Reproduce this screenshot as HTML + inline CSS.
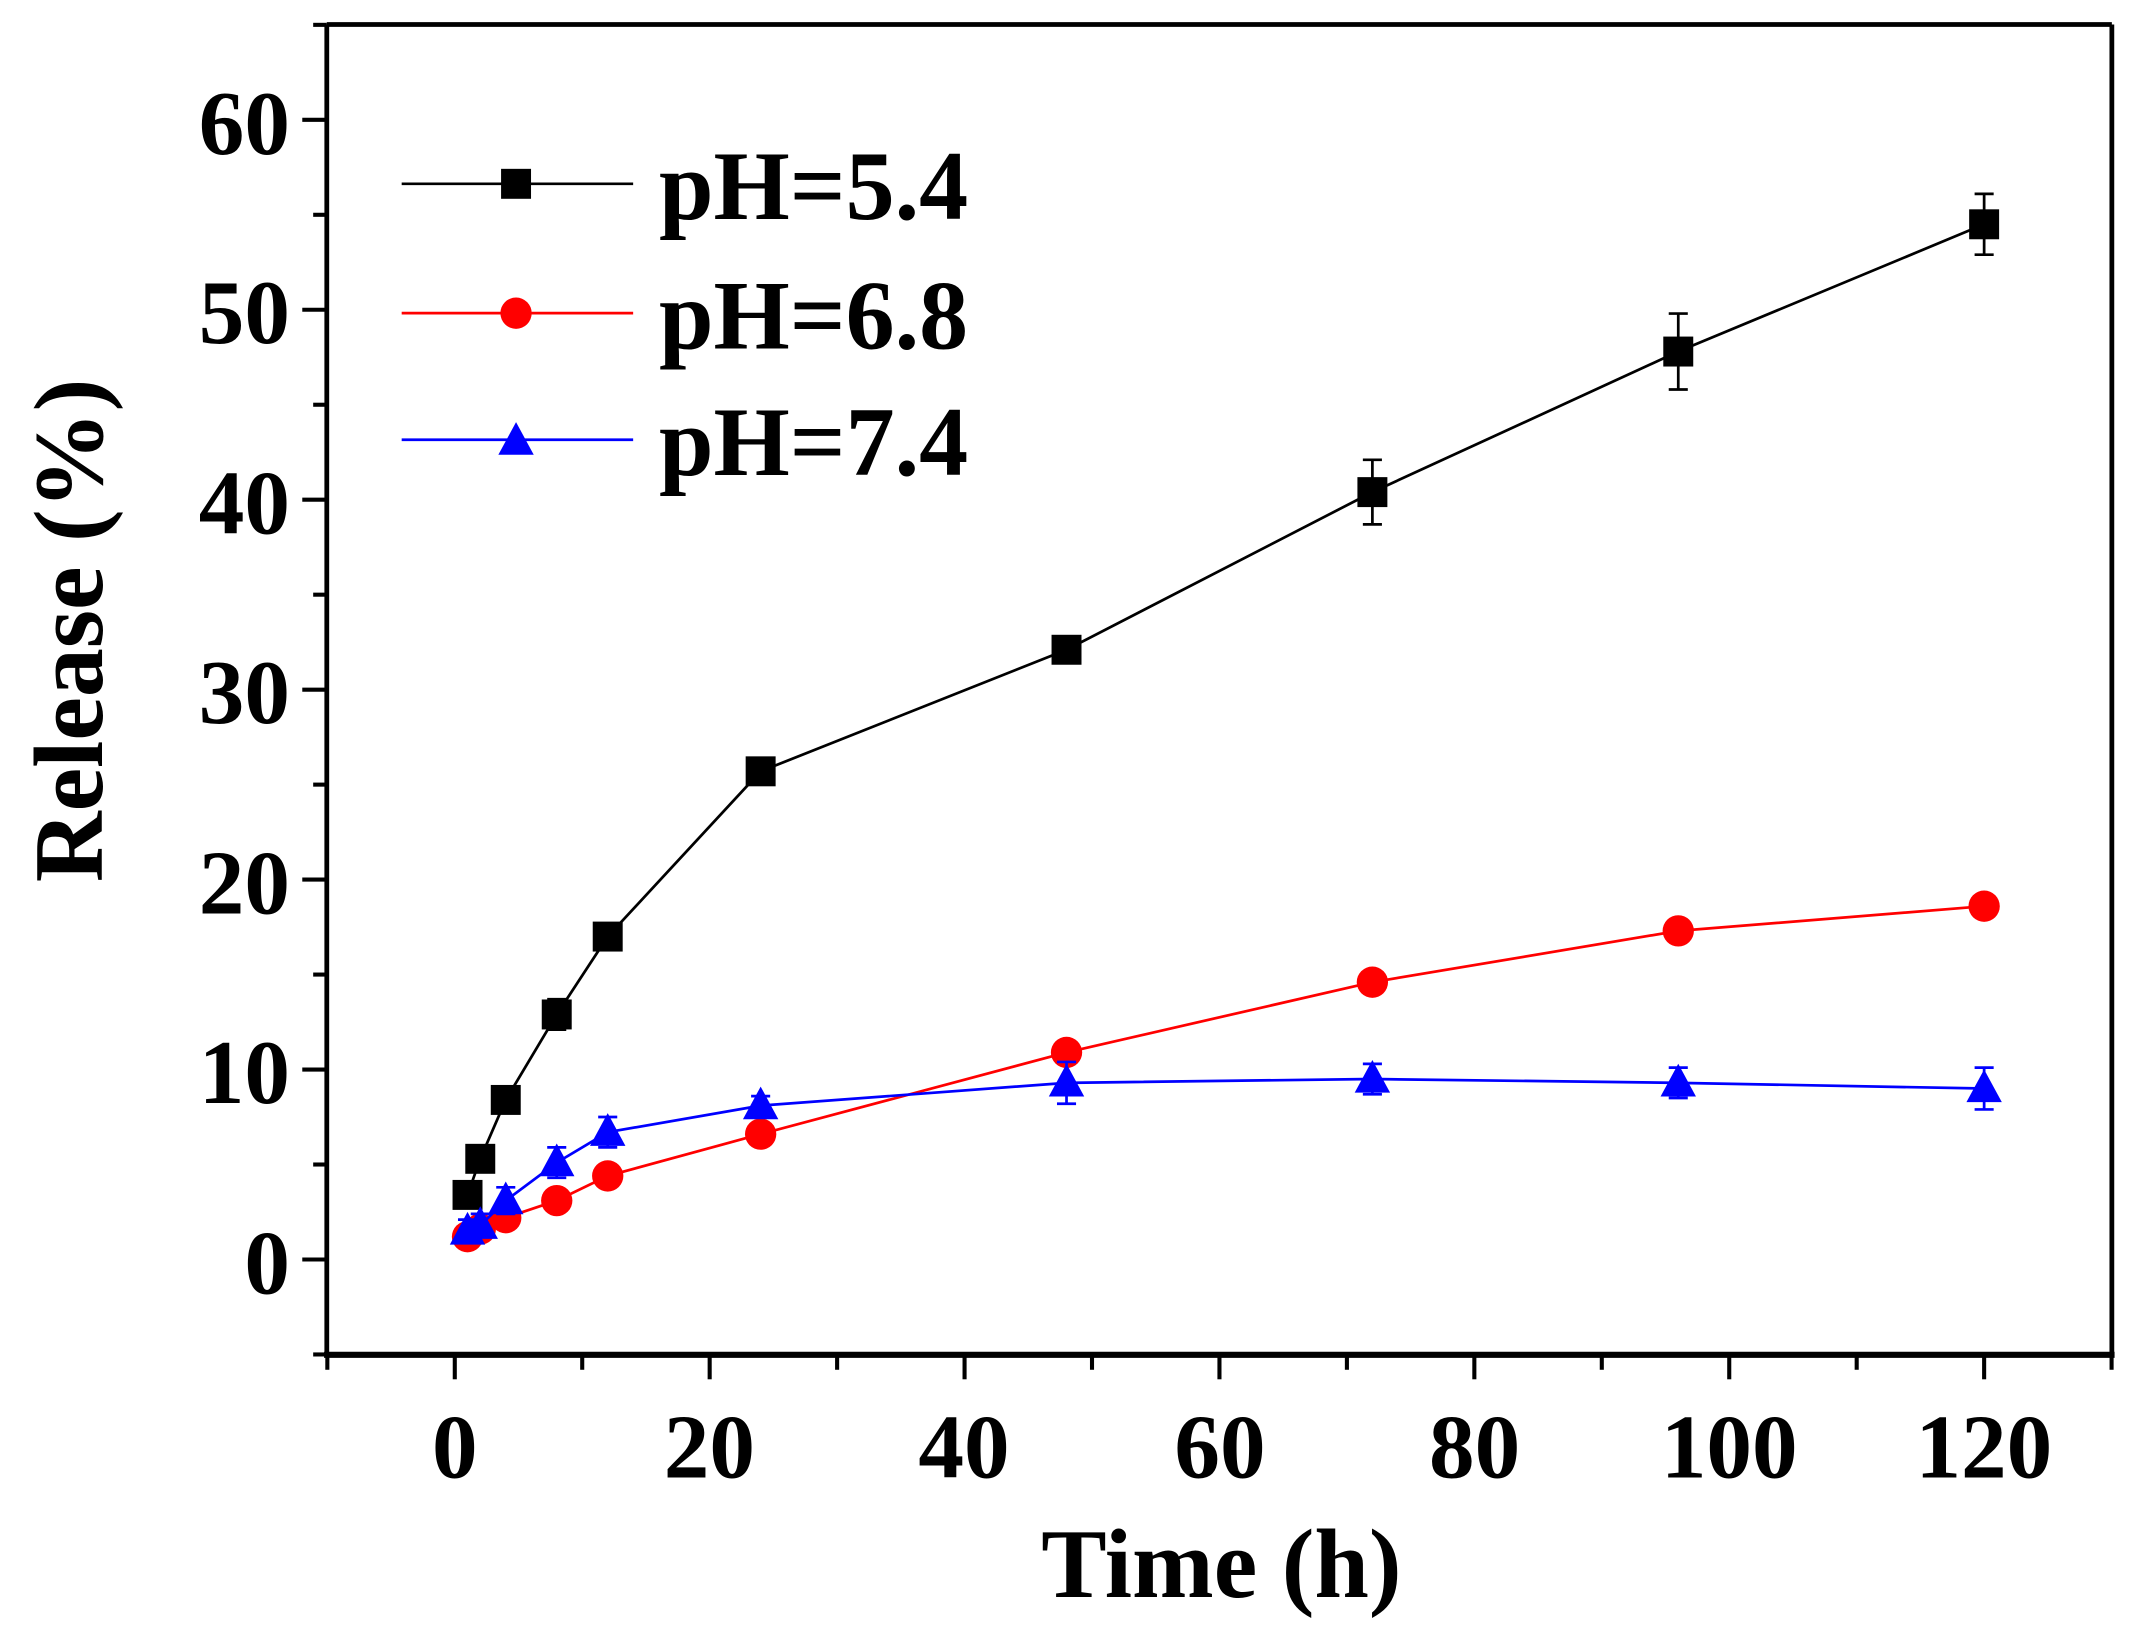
<!DOCTYPE html>
<html><head><style>html,body{margin:0;padding:0;background:#fff}svg{display:block}</style></head><body>
<svg width="2135" height="1644" viewBox="0 0 1568 1207.4" preserveAspectRatio="none" xmlns="http://www.w3.org/2000/svg" font-family="Liberation Serif, serif" font-weight="bold">
<g stroke="#000" stroke-width="3.5" fill="none">
<line x1="240" y1="18" x2="1551" y2="18"/>
<line x1="240" y1="18" x2="240" y2="995"/>
<line x1="1551" y1="18" x2="1551" y2="995"/>
<line x1="238" y1="995" x2="1553" y2="995" stroke-width="4.5"/>
</g>
<g id="ticks" stroke="#000" stroke-width="3"></g>
<g font-size="67" text-anchor="end" fill="#000">
<text x="213" y="113">60</text><text x="213" y="252">50</text><text x="213" y="392">40</text><text x="213" y="531">30</text><text x="213" y="671">20</text><text x="213" y="810">10</text><text x="213" y="950">0</text>
</g>
<g font-size="67" text-anchor="middle" fill="#000">
<text x="334" y="1085">0</text><text x="521" y="1085">20</text><text x="708" y="1085">40</text><text x="896" y="1085">60</text><text x="1083" y="1085">80</text><text x="1270" y="1085">100</text><text x="1457" y="1085">120</text>
</g>
<text x="897" y="1173" font-size="72" text-anchor="middle">Time (h)</text>
<text transform="translate(75,463) rotate(-90)" font-size="72" text-anchor="middle">Release (%)</text>
<g id="data"></g>
<g stroke-width="2">
<line x1="295" y1="135" x2="465" y2="135" stroke="#000"/>
<rect x="368" y="124" width="22" height="22" fill="#000"/>
<line x1="295" y1="230" x2="465" y2="230" stroke="#f00"/>
<circle cx="379" cy="230" r="11.5" fill="#f00"/>
<line x1="295" y1="323" x2="465" y2="323" stroke="#00f"/>
<polygon points="379,310 366,334 392,334" fill="#00f"/>
</g>
<g font-size="72" fill="#000">
<text x="484" y="161">pH=5.4</text><text x="484" y="256">pH=6.8</text><text x="484" y="349">pH=7.4</text>
</g>
<script>
var X=function(t){return 334+t*9.36},Y=function(v){return 925-v*13.95};
var ns="http://www.w3.org/2000/svg";
function el(p,n,a){var e=document.createElementNS(ns,n);for(var k in a)e.setAttribute(k,a[k]);p.appendChild(e);return e}
var tk=document.getElementById('ticks');
for(var v=-5;v<=65;v+=5){var y=Y(v);el(tk,'line',{x1:v%10==0?222:230,y1:y,x2:240,y2:y})}
for(var t=-10;t<=130;t+=10){var x=X(t);el(tk,'line',{x1:x,y1:995,x2:x,y2:t%20==0?1013:1006})}
var d=document.getElementById('data');
var T=[1,2,4,8,12,24,48,72,96,120];
var S=[
{c:'#000',m:'s',v:[3.4,5.3,8.4,12.9,17,25.7,32.1,40.4,47.8,54.5],e:[.4,.4,.5,.8,.6,.7,.6,1.7,2,1.6]},
{c:'#f00',m:'c',v:[1.2,1.6,2.2,3.1,4.4,6.6,10.9,14.6,17.3,18.6],e:[.3,.3,.3,.3,.3,.3,.3,.3,.3,.5]},
{c:'#00f',m:'t',v:[1.5,1.8,3.1,5.1,6.7,8.1,9.3,9.5,9.3,9],e:[.6,.6,.7,.8,.8,.5,1.1,.8,.8,1.1]}];
S.forEach(function(s){
 var pts=T.map(function(t,i){return X(t)+','+Y(s.v[i])}).join(' ');
 el(d,'polyline',{points:pts,fill:'none',stroke:s.c,'stroke-width':2});
 T.forEach(function(t,i){var x=X(t),y=Y(s.v[i]),e=s.e[i]*13.95;
  el(d,'line',{x1:x,y1:y-e,x2:x,y2:y+e,stroke:s.c,'stroke-width':2});
  el(d,'line',{x1:x-7,y1:y-e,x2:x+7,y2:y-e,stroke:s.c,'stroke-width':2});
  el(d,'line',{x1:x-7,y1:y+e,x2:x+7,y2:y+e,stroke:s.c,'stroke-width':2});
  if(s.m=='s')el(d,'rect',{x:x-11,y:y-11,width:22,height:22,fill:s.c});
  else if(s.m=='c')el(d,'circle',{cx:x,cy:y,r:11.5,fill:s.c});
  else el(d,'polygon',{points:x+','+(y-14)+' '+(x-13)+','+(y+10)+' '+(x+13)+','+(y+10),fill:s.c});
 });
});
</script>
</svg>
</body></html>
